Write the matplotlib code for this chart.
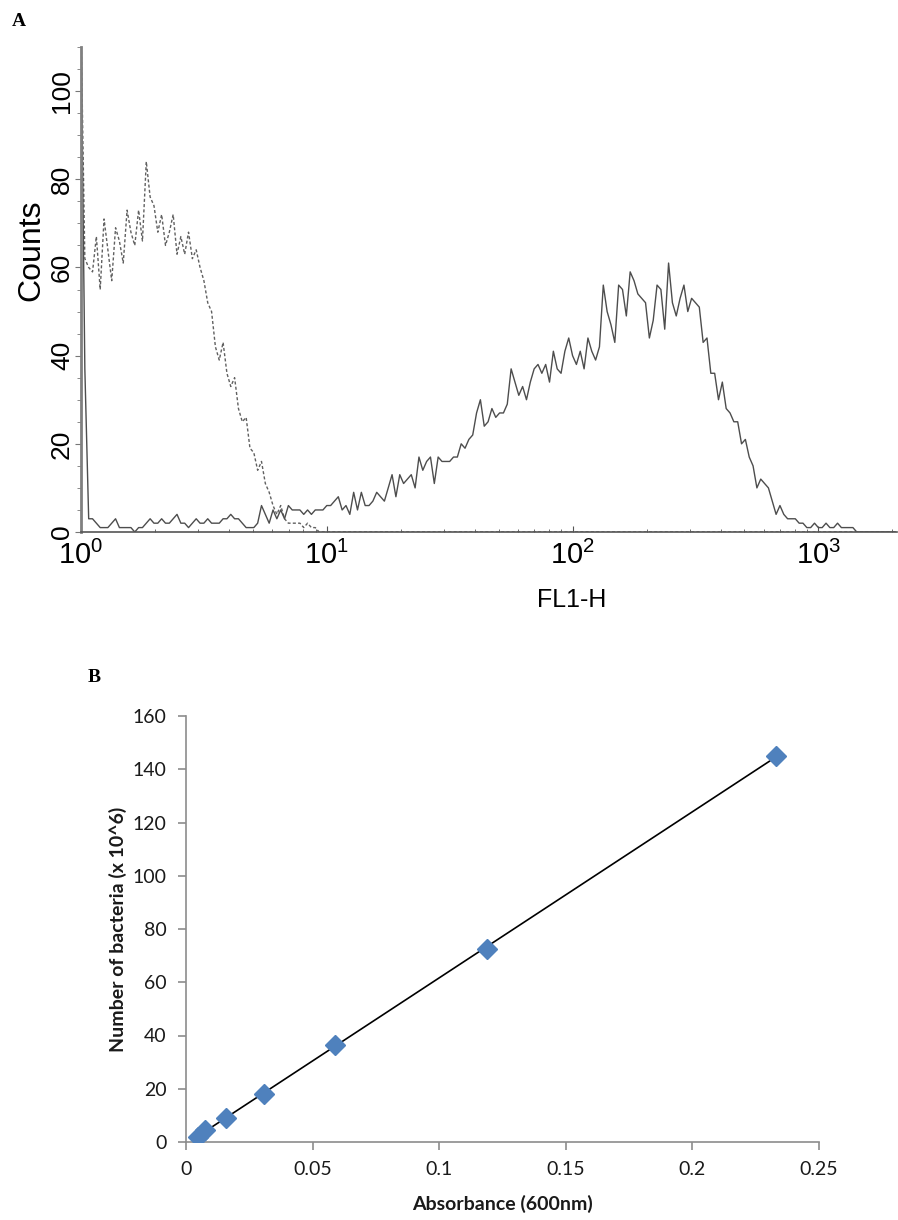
import numpy as np
import matplotlib
matplotlib.use('Agg')
import matplotlib.pyplot as plt
from matplotlib.ticker import MultipleLocator, FixedLocator, NullFormatter

# Painel A: histograma FL1-H (64 canais por decada)
canais_por_decada = 64
controle = [115, 62, 60, 59, 67, 55, 71, 64, 57, 69,
            66, 61, 73, 68, 65, 73, 66, 84, 76, 74,
            68, 72, 65, 68, 72, 63, 67, 63, 68, 62,
            64, 60, 57, 52, 50, 42, 39, 43, 36, 33,
            35, 28, 25, 26, 19, 18, 14, 16, 11, 9,
            6, 4, 6, 3, 2, 2, 2, 2, 1, 2,
            1, 1, 0]
controle_canal_final = 212  # o controle fica em zero ate aqui

marcado = [115, 37, 3, 3, 2, 1, 1, 1, 2, 3,
           1, 1, 1, 1, 0, 1, 1, 2, 3, 2,
           2, 3, 2, 2, 3, 4, 2, 2, 1, 2,
           3, 2, 2, 3, 2, 2, 2, 3, 3, 4,
           3, 3, 2, 1, 1, 1, 2, 6, 4, 2,
           5, 3, 5, 3, 6, 5, 5, 5, 4, 5,
           4, 5, 5, 5, 6, 6, 7, 8, 5, 6,
           4, 9, 5, 9, 6, 6, 7, 9, 8, 7,
           10, 13, 8, 13, 11, 12, 13, 10, 17, 14,
           16, 17, 11, 17, 16, 16, 16, 17, 17, 20,
           19, 21, 22, 27, 30, 24, 25, 28, 26, 27,
           27, 29, 37, 34, 31, 33, 30, 34, 37, 38,
           36, 38, 34, 41, 37, 36, 41, 44, 40, 38,
           41, 37, 44, 41, 39, 42, 56, 50, 47, 43,
           56, 55, 49, 59, 57, 54, 53, 52, 44, 48,
           56, 55, 46, 61, 52, 49, 53, 56, 50, 53,
           52, 51, 43, 44, 36, 36, 30, 34, 28, 27,
           25, 25, 20, 21, 17, 15, 10, 12, 11, 10,
           7, 4, 6, 4, 3, 3, 3, 2, 2, 1,
           1, 2, 1, 1, 2, 1, 1, 2, 1, 1,
           1, 1, 0, 0, 0, 0, 0, 0, 0, 0,
           0, 0, 0]

# Painel B: curva padrao
absorbancia = [0.0047, 0.0075, 0.0158, 0.0308, 0.0589, 0.1189, 0.233]
bacterias = [2.0, 4.5, 9.2, 18.1, 36.5, 72.5, 145.0]


def canal_para_fl(canais):
    return 10 ** (np.asarray(canais, dtype=float) / canais_por_decada)


fig = plt.figure(figsize=(8.98, 12.2), dpi=100)

# ---------------- Painel A ----------------
fonte_a = 'Liberation Sans'
plt.rcParams['mathtext.fontset'] = 'custom'
plt.rcParams['mathtext.rm'] = fonte_a
plt.rcParams['mathtext.it'] = fonte_a

ax1 = fig.add_axes([81 / 898, 1 - 532 / 1220, 816 / 898, 485 / 1220])

x_ctrl = canal_para_fl(list(range(len(controle))) + [controle_canal_final])
y_ctrl = controle + [0]
ax1.plot(x_ctrl, y_ctrl, color='#606060', lw=1.0, ls=(0, (2.2, 1.6)))

x_marc = canal_para_fl(range(len(marcado)))
ax1.plot(x_marc, marcado, color='#4d4d4d', lw=1.0)

ax1.set_xscale('log')
ax1.set_xlim(1, 10 ** 3.32)
ax1.set_ylim(0, 110)
for lado in ['top', 'right']:
    ax1.spines[lado].set_visible(False)
ax1.spines['left'].set_color('#808080')
ax1.spines['left'].set_linewidth(2.0)
ax1.spines['bottom'].set_color('#555555')
ax1.spines['bottom'].set_linewidth(1.2)

ax1.yaxis.set_major_locator(MultipleLocator(20))
ax1.yaxis.set_minor_locator(MultipleLocator(5))
ax1.xaxis.set_major_locator(FixedLocator([1, 10, 100, 1000]))
ax1.xaxis.set_minor_locator(FixedLocator(
    [m * d for d in [1, 10, 100, 1000] for m in range(2, 10)]))
ax1.xaxis.set_minor_formatter(NullFormatter())
ax1.set_xticklabels(['$10^0$', '$10^1$', '$10^2$', '$10^3$'],
                    fontsize=21, fontfamily=fonte_a)
ax1.set_yticks([0, 20, 40, 60, 80, 100])
ax1.set_yticklabels(['0', '20', '40', '60', '80', '100'], fontsize=19,
                    fontfamily=fonte_a, rotation=90, va='center')
ax1.tick_params(axis='y', which='major', length=4, color='#777777', pad=1)
ax1.tick_params(axis='y', which='minor', length=3, color='#777777')
ax1.tick_params(axis='x', which='major', length=4, direction='in',
                color='#555555', pad=6)
ax1.tick_params(axis='x', which='minor', length=2.5, direction='in',
                color='#555555')
ax1.set_xlabel('FL1-H', fontsize=18, fontfamily=fonte_a)
ax1.xaxis.set_label_coords((572 - 81) / 816, (532 - 600) / 485)
ax1.xaxis.label.set_va('center')
ax1.set_ylabel('Counts', fontsize=23, fontfamily=fonte_a)
ax1.yaxis.set_label_coords((31 - 81) / 816, (532 - 250) / 485)
ax1.yaxis.label.set_va('center')

fig.text(12 / 898, 1 - 21 / 1220, 'A', fontsize=14, fontweight='bold',
         fontfamily='Liberation Serif', va='center', ha='left')

# ---------------- Painel B ----------------
fonte_b = 'Lato'
ax2 = fig.add_axes([186 / 898, 1 - 1142 / 1220, 633 / 898, 426 / 1220])

coef = np.polyfit(absorbancia, bacterias, 1)
x_linha = np.array([min(absorbancia), max(absorbancia)])
ax2.plot(x_linha, np.polyval(coef, x_linha), color='black', lw=1.2, zorder=2)
ax2.plot(absorbancia, bacterias, ls='none', marker='D', markersize=10.5,
         color='#4f81bd', markeredgecolor='#4f81bd', zorder=3)

ax2.set_xlim(0, 0.25)
ax2.set_ylim(0, 160)
ax2.set_xticks([0, 0.05, 0.1, 0.15, 0.2, 0.25])
ax2.set_xticklabels(['0', '0.05', '0.1', '0.15', '0.2', '0.25'],
                    fontsize=14, fontfamily=fonte_b, color='#1a1a1a')
ax2.set_yticks(range(0, 161, 20))
ax2.set_yticklabels([str(v) for v in range(0, 161, 20)],
                    fontsize=14, fontfamily=fonte_b, color='#1a1a1a')
for lado in ['top', 'right']:
    ax2.spines[lado].set_visible(False)
for lado in ['left', 'bottom']:
    ax2.spines[lado].set_color('#8c8c8c')
    ax2.spines[lado].set_linewidth(1.2)
ax2.tick_params(length=6, width=1.2, color='#8c8c8c', pad=8)
ax2.set_xlabel('Absorbance (600nm)', fontsize=14, fontweight='bold',
               fontfamily=fonte_b, color='#1a1a1a', labelpad=12)
ax2.set_ylabel('Number of bacteria (x 10^6)', fontsize=14, fontweight='bold',
               fontfamily=fonte_b, color='#1a1a1a', labelpad=4)

fig.text(88 / 898, 1 - 677 / 1220, 'B', fontsize=14, fontweight='bold',
         fontfamily='Liberation Serif', va='center', ha='left')

fig.savefig('out.png', dpi=100)
